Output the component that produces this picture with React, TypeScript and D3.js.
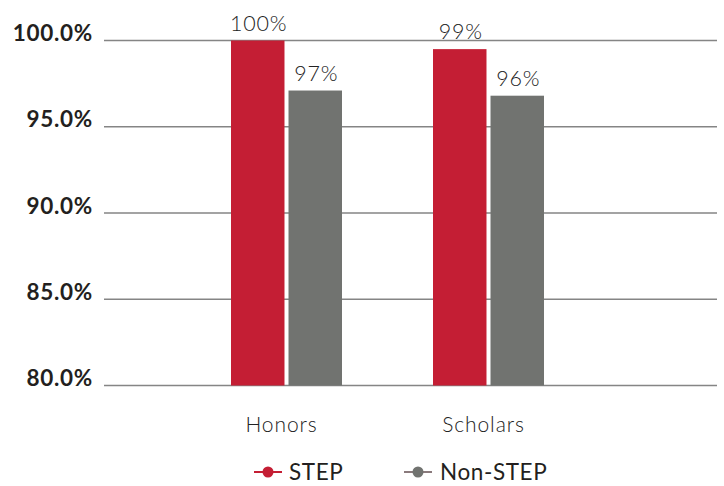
import React from "react";
import * as d3 from "d3";

const categories = ["Honors", "Scholars"];
const seriesNames = ["STEP", "Non-STEP"];
const stepValues = [100, 99.5];
const nonStepValues = [97.1, 96.8];
const stepLabels = ["100%", "99%"];
const nonStepLabels = ["97%", "96%"];
const yTicks = [80, 85, 90, 95, 100];
const colors = ["#C41E34", "#717370"];
const legendLineColors = ["#C41E34", "#8a7a7c"];

const W = 724;
const H = 486;

export default function App() {
  const y = d3.scaleLinear().domain([80, 100]).range([385.5, 40.5]);
  const x = d3.scaleBand<string>().domain(categories).range([185.5, 589.5]).paddingInner(0);
  const inner = d3
    .scaleBand<string>()
    .domain(seriesNames)
    .range([-55.5, 55.5])
    .paddingInner(0.07);
  const values = [stepValues, nonStepValues];
  const labels = [stepLabels, nonStepLabels];
  const fmt = d3.format(".1f");
  const gridX0 = 104;
  const gridX1 = 717;
  const legendItems = [
    { name: seriesNames[0], cx: 268, tx: 289 },
    { name: seriesNames[1], cx: 418, tx: 440 },
  ];

  return (
    <svg
      width={W}
      height={H}
      style={{ position: "absolute", left: 0, top: 0, background: "#fff" }}
      fontFamily="Lato, 'Open Sans', sans-serif"
    >
      {yTicks.map((t) => (
        <g key={t}>
          <line x1={gridX0} x2={gridX1} y1={y(t)} y2={y(t)} stroke="#858585" strokeWidth={1.6} />
          <text
            x={93}
            y={y(t) + 0.5}
            textAnchor="end"
            fontSize={22.5}
            fontWeight={700}
            letterSpacing={0.7}
            fill="#231f20"
          >
            {fmt(t) + "%"}
          </text>
        </g>
      ))}
      {categories.map((c, ci) => {
        const cx = (x(c) as number) + x.bandwidth() / 2;
        return (
          <g key={c}>
            {seriesNames.map((s, si) => {
              const bx = cx + (inner(s) as number);
              const v = values[si][ci];
              return (
                <g key={s}>
                  <rect
                    x={bx}
                    y={y(v)}
                    width={inner.bandwidth()}
                    height={y(80) - y(v)}
                    fill={colors[si]}
                  />
                  <text
                    x={bx + inner.bandwidth() / 2 + 1}
                    y={y(v) - 10}
                    textAnchor="middle"
                    fontSize={21.5}
                    fontWeight={300}
                    letterSpacing={0.8}
                    fill="#222"
                  >
                    {labels[si][ci]}
                  </text>
                </g>
              );
            })}
            <text
              x={cx - 5}
              y={432}
              textAnchor="middle"
              fontSize={21}
              fontWeight={300}
              letterSpacing={0.9}
              fill="#222"
            >
              {c}
            </text>
          </g>
        );
      })}
      {legendItems.map((l, i) => (
        <g key={l.name}>
          <line x1={l.cx - 14} x2={l.cx + 14} y1={472} y2={472} stroke={legendLineColors[i]} strokeWidth={2} />
          <circle cx={l.cx} cy={472} r={5.5} fill={colors[i]} />
          <text x={l.tx} y={480} fontSize={22.5} fontWeight={400} letterSpacing={0.6} fill="#231f20">
            {l.name}
          </text>
        </g>
      ))}
    </svg>
  );
}
